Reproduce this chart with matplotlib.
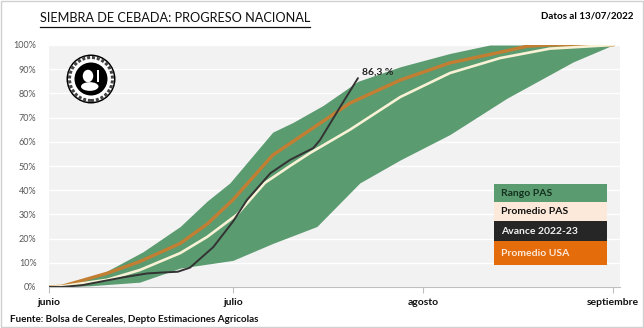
import numpy as np
import matplotlib
matplotlib.use("Agg")
import matplotlib.pyplot as plt
from matplotlib.patches import Rectangle, Circle, Ellipse

# days since June 1
upper_x = [0, 2.1, 8.3, 15.3, 21.4, 25.8, 29.5, 36.5, 39.8, 44.7, 50.4, 57.3, 65.4, 71.9, 92]
upper_y = [0, 0.5, 5, 14.5, 25, 35.5, 43, 64, 68, 75, 85, 91, 96.5, 100, 100]

lower_x = [0, 6.7, 14.8, 21.4, 30.0, 36.5, 43.7, 50.7, 57.3, 65.4, 74.7, 85.5, 92]
lower_y = [0, 0.5, 2, 7.8, 11, 18, 25, 43, 52.5, 63, 78, 93, 100]

usa_x = [0, 2.1, 3.9, 9.5, 14.8, 21.4, 25.8, 30.0, 36.5, 40.9, 49.1, 57.3, 65.4, 73.6, 78.0, 81.7, 92]
usa_y = [0, 0.3, 1.6, 5.7, 10.5, 18, 26, 36, 54.5, 62, 76, 85.5, 92.6, 97, 99.5, 100, 100]

pas_x = [0, 2.1, 9.5, 14.8, 21.4, 25.8, 30.7, 35.2, 39.3, 42.6, 49.1, 57.3, 65.4, 73.6, 81.7, 92]
pas_y = [0, 0.3, 3, 7, 14, 20.7, 30, 43, 50, 55.4, 65, 78.5, 88.4, 94.6, 98.5, 100]

avance_x = [0, 2.1, 5.5, 9.0, 12.1, 16.0, 18.5, 21.0, 23.0, 26.8, 30.0, 32.3, 36.1, 39.3, 43.1, 44.2, 47.5, 50.4]
avance_y = [0, 0, 0.8, 2.5, 4, 5.6, 6, 6.3, 8, 16.5, 27, 36, 47, 52.5, 57.4, 60.7, 74.4, 86.3]

month_pos = [0, 30, 61, 92]
month_lab = ["junio", "julio", "agosto", "septiembre"]

green = "#5b9b70"
orange_line = "#c27e32"
cream = "#f9f2d6"
dark = "#333333"

plt.rcParams['font.family'] = ['Lato', 'DejaVu Sans']

fig = plt.figure(figsize=(6.44, 3.28), dpi=100)
W, H = 644, 328

def fx(px):
    return px / W

def fy(py):
    return 1 - py / H

ax = fig.add_axes([fx(49), fy(287), fx(620) - fx(49), fy(45) - fy(287)])
ax.set_facecolor("#f2f2f2")

# band between lower and upper range
xs = sorted(set(upper_x) | set(lower_x))
up_i = np.interp(xs, upper_x, upper_y)
lo_i = np.interp(xs, lower_x, lower_y)
ax.fill_between(xs, np.array(lo_i) / 100, np.array(up_i) / 100, color=green, lw=0, zorder=2)

ax.plot(usa_x, np.array(usa_y) / 100, color=orange_line, lw=2.4, zorder=3,
        solid_capstyle="round", solid_joinstyle="round")
ax.plot(pas_x, np.array(pas_y) / 100, color=cream, lw=1.9, zorder=4,
        solid_capstyle="round", solid_joinstyle="round")
ax.plot(avance_x, np.array(avance_y) / 100, color=dark, lw=1.4, zorder=5,
        solid_capstyle="round", solid_joinstyle="round")

ax.annotate("86,3 %", (avance_x[-1], avance_y[-1] / 100), xytext=(3, 4.5), textcoords="offset points",
            fontsize=7.5, fontweight="bold", color="#222222", ha="left", va="center", zorder=6)

ax.set_xlim(0, (620 - 49) / 6.13)
ax.set_ylim(0, 1)
ax.set_yticks(np.arange(0, 1.01, 0.1))
ax.set_yticklabels([f"{int(round(v * 100))}%" for v in np.arange(0, 1.01, 0.1)], fontsize=6.5, color="#595959")
ax.set_xticks(month_pos)
ax.set_xticklabels(month_lab, fontsize=7.5, fontweight="bold", color="#111111")
ax.tick_params(axis="y", length=0, pad=9)
ax.tick_params(axis="x", length=4, color="#bfbfbf", pad=4)
ax.grid(axis="y", color="white", lw=1, zorder=1)
ax.set_axisbelow(True)
for s in ["top", "right", "left"]:
    ax.spines[s].set_visible(False)
ax.spines["bottom"].set_color("#bfbfbf")

# title with underline
title = fig.text(fx(40), fy(18), "SIEMBRA DE CEBADA: PROGRESO NACIONAL", fontsize=9.2,
                 ha="left", va="center", color="#111111")
fig.canvas.draw()
bb = title.get_window_extent()
fig.add_artist(plt.Line2D([bb.x0 / W, bb.x1 / W], [bb.y0 / H - 0.008, bb.y0 / H - 0.008],
                          color="#111111", lw=0.9, transform=fig.transFigure))

fig.text(fx(633), fy(16), "Datos al 13/07/2022", fontsize=7, fontweight="bold", ha="right", va="center")
fig.text(fx(10), fy(319), "Fuente: Bolsa de Cereales, Depto Estimaciones Agricolas", fontsize=7.1,
         fontweight="bold", ha="left", va="center", color="#111111")

# legend boxes
legend_rows = [
    ("Rango PAS", green, "#14301e", 184, 202),
    ("Promedio PAS", "#fde9d9", "#111111", 202, 221),
    ("Avance 2022-23", "#262626", "#f2f2f2", 221, 241),
    ("Promedio USA", "#e46c0a", "#fde9d9", 241, 265),
]
for lab, fc, tc, y0, y1 in legend_rows:
    fig.add_artist(Rectangle((fx(494), fy(y1)), fx(607) - fx(494), fy(y0) - fy(y1),
                             transform=fig.transFigure, facecolor=fc, edgecolor="none"))
    fig.text(fx(501), (fy(y0) + fy(y1)) / 2, lab, fontsize=7.5, fontweight="bold", color=tc,
             ha="left", va="center")

# seal logo
lax = fig.add_axes([fx(66), fy(104), fx(116) - fx(66), fy(54) - fy(104)])
lax.set_xlim(-1, 1)
lax.set_ylim(-1, 1)
lax.set_aspect("equal")
lax.axis("off")
lax.add_patch(Circle((0, 0), 0.98, facecolor="black", edgecolor="none"))
lax.add_patch(Circle((0, 0), 0.92, facecolor="white", edgecolor="none"))
lax.add_patch(Circle((0, 0), 0.86, facecolor="none", edgecolor="#444444", lw=2.2, ls=(0, (1, 0.6))))
lax.add_patch(Circle((0, 0), 0.66, facecolor="black", edgecolor="none"))
lax.add_patch(Ellipse((-0.12, 0.12), 0.42, 0.5, facecolor="white", edgecolor="none"))
lax.add_patch(Ellipse((-0.05, -0.3), 0.7, 0.35, facecolor="white", edgecolor="none"))
lax.add_patch(Rectangle((0.25, -0.1), 0.08, 0.45, facecolor="white", edgecolor="none"))

# light frame around the figure
fig.add_artist(Rectangle((0.001, 0.002), 0.997, 0.995, transform=fig.transFigure,
                         facecolor="none", edgecolor="#d0d0d0", lw=1))

fig.savefig("out.png", dpi=100)
